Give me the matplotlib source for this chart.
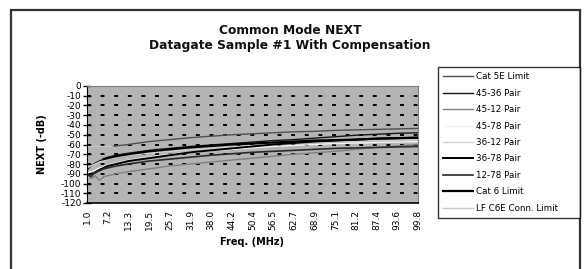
import matplotlib.pyplot as plt
from matplotlib.patches import Rectangle

# frequencies (MHz) where the curves are read
freq = [1.0, 2.2, 3.5, 4.7, 6.0, 7.2, 9.7, 13.3, 19.5, 25.7, 31.9, 38.0,
        44.2, 50.4, 56.5, 62.7, 68.9, 75.1, 81.2, 87.4, 93.6, 99.8]

pair_45_36 = [-86, -82, -79, -77, -75, -73, -71, -69, -66, -64, -62, -60.5,
              -59, -57.5, -56, -55, -53.5, -52, -50.5, -49.5, -48.5, -48]
pair_45_12 = [-88, -95, -92, -97, -93, -92, -90, -88, -85, -82, -80, -78,
              -76, -74, -72, -70, -68.5, -67, -65, -63, -61.5, -60]
pair_45_78 = [-89, -88, -86, -84, -83, -81, -79, -76, -73, -70, -68, -66.5,
              -65, -63.5, -62, -61, -60, -59, -58.5, -58, -57.5, -57]
pair_36_12 = [-84, -82, -80, -78, -77, -75, -73, -71, -69, -67, -65.5, -64,
              -62.5, -61, -60, -59, -58, -57, -56.5, -56, -55.5, -55]
pair_36_78 = [-92, -90, -89, -86, -84, -82, -80, -77, -74, -71, -68, -66,
              -64, -62, -60, -58.5, -57, -56, -55, -54, -53.5, -53]
pair_12_78 = [-90, -93, -88, -87, -85, -84, -82, -80, -77, -75, -73, -71,
              -69.5, -68, -67, -66, -65, -64, -63.5, -63, -62.5, -62]

freq_5e = [8.5, 9.7, 13.3, 19.5, 25.7, 31.9, 38.0, 44.2, 50.4, 56.5, 62.7,
           68.9, 75.1, 81.2, 87.4, 93.6, 99.8]
cat5e_limit = [-62, -61.5, -60, -57, -55, -53, -51.5, -50, -49, -48, -47,
               -46.5, -45.5, -45, -44.5, -44, -43.5]
freq_c6 = [6.0, 7.2, 9.7, 13.3, 19.5, 25.7, 31.9, 38.0, 44.2, 50.4, 56.5,
           62.7, 68.9, 75.1, 81.2, 87.4, 93.6, 99.8]
cat6_limit = [-75, -74, -72, -70, -67, -65, -63, -61.5, -60, -59, -58, -57,
              -56, -55.5, -55, -54, -53.5, -53]
freq_lf = [1.0, 8.5]
lf_c6e_limit = [-62, -62]

xticks = [1.0, 7.2, 13.3, 19.5, 25.7, 31.9, 38.0, 44.2, 50.4, 56.5, 62.7,
          68.9, 75.1, 81.2, 87.4, 93.6, 99.8]
yticks = list(range(0, -130, -10))

fig = plt.figure(figsize=(5.84, 2.69), dpi=100)
ax = fig.add_axes([87 / 584, 66 / 269, 331 / 584, 117 / 269])
ax.set_facecolor('#b4b4b4')

ax.plot(freq_5e, cat5e_limit, color='#505050', lw=1, label='Cat 5E Limit')
ax.plot(freq, pair_45_36, color='#151515', lw=1, label='45-36 Pair')
ax.plot(freq, pair_45_12, color='#808080', lw=1, label='45-12 Pair')
ax.plot(freq, pair_45_78, color='#f2f2f2', lw=1, label='45-78 Pair')
ax.plot(freq, pair_36_12, color='#d0d0d0', lw=1, label='36-12 Pair')
ax.plot(freq, pair_36_78, color='#000000', lw=1.4, label='36-78 Pair')
ax.plot(freq, pair_12_78, color='#2a2a2a', lw=1.2, label='12-78 Pair')
ax.plot(freq_c6, cat6_limit, color='#000000', lw=1.6, label='Cat 6 Limit')
ax.plot(freq_lf, lf_c6e_limit, color='#c8c8c8', lw=1, label='LF C6E Conn. Limit')

ax.set_xlim(1.0, 99.8)
ax.set_ylim(-120, 0)
ax.set_xticks(xticks)
ax.set_xticklabels([f'{v:.1f}' for v in xticks], rotation=90, fontsize=6.5)
ax.set_yticks(yticks)
ax.set_yticklabels([str(v) for v in yticks], fontsize=6.5)
ax.tick_params(axis='x', length=0, pad=5)
ax.tick_params(axis='y', direction='inout', length=6, width=1, pad=1)
for v in yticks[1:-1]:
    ax.axhline(v, color='black', lw=1.4, ls=(0, (2, 5)), zorder=0.5)

ax.spines['left'].set_color('black')
ax.spines['bottom'].set_color('black')
ax.spines['bottom'].set_linewidth(1.2)
ax.spines['top'].set_color('#808080')
ax.spines['right'].set_color('#808080')

ax.set_xlabel('Freq. (MHz)', fontsize=7, fontweight='bold', labelpad=5)
ax.set_ylabel('NEXT (-dB)', fontsize=7, fontweight='bold', labelpad=10)

fig.text(290 / 584, 1 - 30 / 269, 'Common Mode NEXT', ha='center',
         va='center', fontsize=8.8, fontweight='semibold', color='#111111')
fig.text(290 / 584, 1 - 45 / 269, 'Datagate Sample #1 With Compensation',
         ha='center', va='center', fontsize=8.8, fontweight='semibold',
         color='#111111')

fig.legend(loc='upper left', bbox_to_anchor=(438 / 584, 1 - 67 / 269, 142 / 584, 0),
           mode='expand', fontsize=6.3, frameon=True, fancybox=False,
           edgecolor='black', handlelength=3.4, handletextpad=0.3,
           labelspacing=0.85, borderpad=0.6, borderaxespad=0)

# outer chart frame
fig.add_artist(Rectangle((11 / 584, -0.1), 569 / 584, 1.1 - 10 / 269,
                         transform=fig.transFigure, fill=False,
                         edgecolor='#333333', lw=1.6))

fig.savefig('out.png', dpi=100)
